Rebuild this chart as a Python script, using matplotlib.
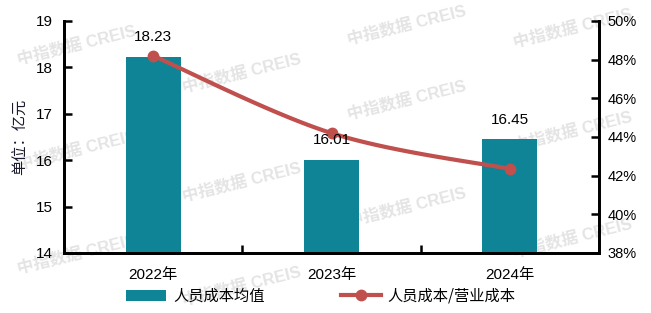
import numpy as np
import matplotlib
matplotlib.use("Agg")
import matplotlib.pyplot as plt
from matplotlib.patches import Patch
from matplotlib.lines import Line2D

plt.rcParams['font.family'] = ['Liberation Sans', 'Noto Sans CJK SC', 'DejaVu Sans']

categories = ["2022年", "2023年", "2024年"]
cost_avg = [18.23, 16.01, 16.45]          # 人员成本均值 (亿元)
cost_ratio = [48.2, 44.2, 42.35]          # 人员成本/营业成本 (%)
left_ticks = [14, 15, 16, 17, 18, 19]
right_ticks = [38, 40, 42, 44, 46, 48, 50]

bar_color = "#0e8496"
line_color = "#c0504d"

W, H = 651, 313
fig = plt.figure(figsize=(W / 100, H / 100), dpi=100)
ax = fig.add_axes([64 / W, 1 - 253 / H, (599 - 64) / W, (253 - 21) / H])
ax2 = ax.twinx()

# watermarks
wm = [(77, 45), (77, 150), (77, 254), (242, 73), (242, 182), (242, 286),
      (407, 25), (407, 100), (407, 207), (573, 28), (573, 131), (573, 238)]
for (px, py) in wm:
    fig.text(px / W, 1 - py / H, "中指数据 CREIS", rotation=14, ha='center', va='center',
             fontsize=12, fontweight='bold', color='#e4e4e4',
             family=['Liberation Sans', 'Noto Sans CJK SC'], zorder=0)

ax.set_zorder(1)
ax2.set_zorder(2)
ax.patch.set_visible(False)
ax2.patch.set_visible(False)

x = np.arange(len(categories))
ax.bar(x, cost_avg, width=0.31, color=bar_color, zorder=2)
ax.set_xlim(-0.5, 2.5)
ax.set_ylim(14, 19)
ax.set_yticks(left_ticks)
ax.set_xticks(x)
ax.set_xticklabels(categories, fontsize=11)
ax.set_xticks([0.5, 1.5], minor=True)
ax.tick_params(axis='x', which='major', length=0, pad=11)
ax.tick_params(axis='x', which='minor', direction='in', length=6, width=1.8)
ax.tick_params(axis='y', direction='in', length=6, width=1.8, labelsize=11, pad=8)

# smooth curve (Catmull-Rom style Bezier through the data points)
pts = np.column_stack([x.astype(float), np.array(cost_ratio, float)])
curve = []
n = len(pts)
for i in range(n - 1):
    p0 = pts[max(i - 1, 0)]
    p1 = pts[i]
    p2 = pts[i + 1]
    p3 = pts[min(i + 2, n - 1)]
    c1 = p1 + (p2 - p0) / 6.0
    c2 = p2 - (p3 - p1) / 6.0
    t = np.linspace(0, 1, 40)[:, None]
    seg = ((1 - t) ** 3) * p1 + 3 * ((1 - t) ** 2) * t * c1 + 3 * (1 - t) * t ** 2 * c2 + t ** 3 * p2
    curve.append(seg if i == 0 else seg[1:])
curve = np.vstack(curve)
ax2.plot(curve[:, 0], curve[:, 1], color=line_color, lw=3, solid_capstyle='round', zorder=3)
ax2.plot(x, cost_ratio, 'o', color=line_color, ms=7.5, zorder=4)
ax2.set_ylim(38, 50)
ax2.set_yticks(right_ticks)
ax2.set_yticklabels([f"{t}%" for t in right_ticks])
ax2.tick_params(axis='y', direction='in', length=6, width=1.8, labelsize=10.5, pad=6)

# bar value labels, drawn above the line
ax3 = fig.add_axes(ax.get_position(), sharex=ax, sharey=ax)
ax3.set_zorder(3)
ax3.patch.set_visible(False)
ax3.axis('off')
for xi, v in zip(x, cost_avg):
    ax3.annotate(f"{v:.2f}", xy=(xi, v), xytext=(0, 9), textcoords='offset points',
                 ha='center', va='bottom', fontsize=11)

for a in (ax, ax2):
    a.spines['top'].set_visible(False)
    for s in ('left', 'right', 'bottom'):
        a.spines[s].set_linewidth(2)
        a.spines[s].set_color('black')

fig.text(20 / W, 1 - 137 / H, "单位：亿元", rotation=90, ha='center', va='center',
         fontsize=11, color='#1a1a2e', family=['Noto Sans CJK SC', 'DejaVu Sans'])

handles = [Patch(facecolor=bar_color, edgecolor='none'),
           Line2D([0], [0], color=line_color, lw=3, marker='o', ms=7.5)]
leg = fig.legend(handles, ["人员成本均值", "人员成本/营业成本"], ncol=2, loc='center',
                 bbox_to_anchor=(321 / W, 1 - 296 / H), frameon=False,
                 prop={'family': ['Noto Sans CJK SC', 'DejaVu Sans'], 'size': 11},
                 handlelength=2.6, handletextpad=0.45, columnspacing=5.0)

fig.savefig("out.png", dpi=100)
